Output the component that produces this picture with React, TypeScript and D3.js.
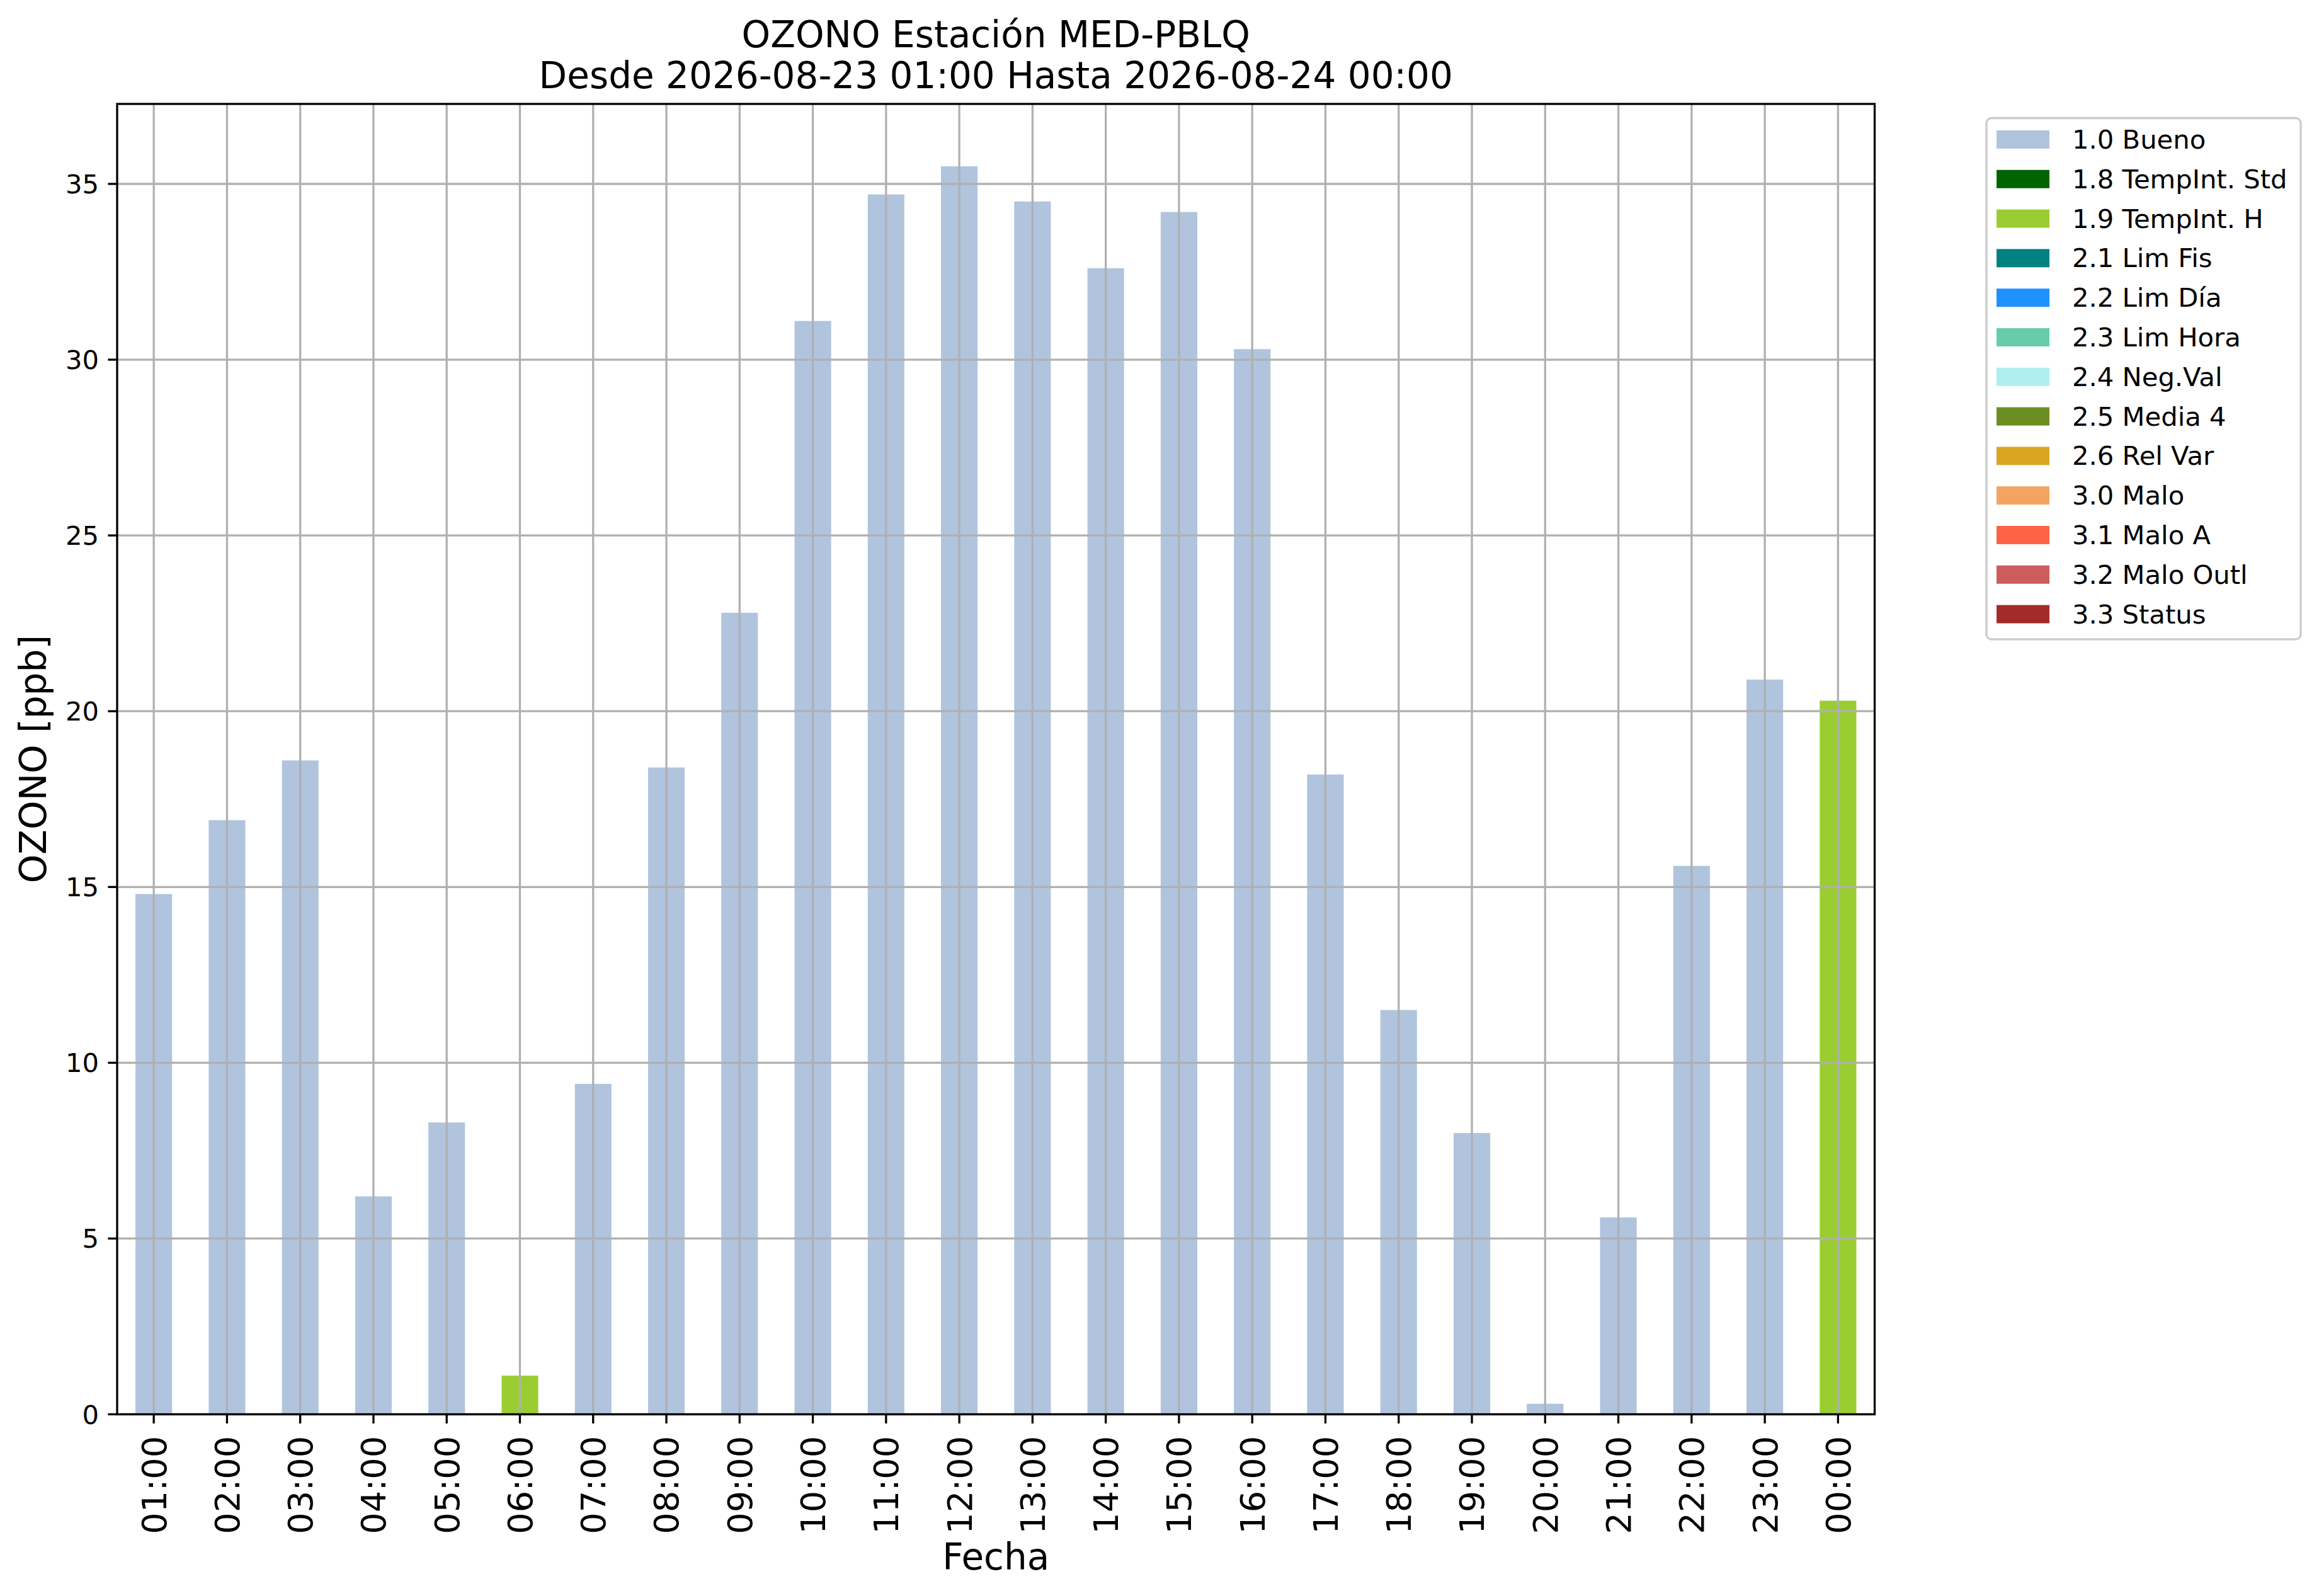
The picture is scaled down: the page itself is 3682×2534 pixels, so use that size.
import React from "react";
import * as d3 from "d3";

const hours = ["01:00","02:00","03:00","04:00","05:00","06:00","07:00","08:00","09:00","10:00","11:00","12:00","13:00","14:00","15:00","16:00","17:00","18:00","19:00","20:00","21:00","22:00","23:00","00:00"];
const ozoneValues = [14.8,16.9,18.6,6.2,8.3,1.1,9.4,18.4,22.8,31.1,34.7,35.5,34.5,32.6,34.2,30.3,18.2,11.5,8.0,0.3,5.6,15.6,20.9,20.3];
const qualityFlags = ["1.0","1.0","1.0","1.0","1.0","1.9","1.0","1.0","1.0","1.0","1.0","1.0","1.0","1.0","1.0","1.0","1.0","1.0","1.0","1.0","1.0","1.0","1.0","1.9"];
const flagCodes = ["1.0","1.8","1.9","2.1","2.2","2.3","2.4","2.5","2.6","3.0","3.1","3.2","3.3"];
const flagLabels = ["1.0 Bueno","1.8 TempInt. Std","1.9 TempInt. H","2.1 Lim Fis","2.2 Lim Día","2.3 Lim Hora","2.4 Neg.Val","2.5 Media 4","2.6 Rel Var","3.0 Malo","3.1 Malo A","3.2 Malo Outl","3.3 Status"];
const flagColors = ["#B0C4DE","#006400","#9ACD32","#008080","#1E90FF","#66CDAA","#AFEEEE","#6B8E23","#DAA520","#F4A460","#FF6347","#CD5C5C","#A52A2A"];
const yTicks = [0,5,10,15,20,25,30,35];
const titleLines = ["OZONO Estación MED-PBLQ","Desde 2026-08-23 01:00 Hasta 2026-08-24 00:00"];
const xLabel = "Fecha";
const yLabel = "OZONO [ppb]";

const W = 3682, H = 2534;
const L = 186, R = 2976.5, T = 165, B = 2245.5;
const FONT = "'DejaVu Sans', sans-serif";
const LW = 3.3;

export default function App() {
  React.useEffect(() => {
    document.body.style.margin = "0";
    document.body.style.overflow = "hidden";
  }, []);

  const x = d3.scaleBand<string>().domain(hours).range([L, R]).paddingInner(0.5).paddingOuter(0.25);
  const y = d3.scaleLinear().domain([0, d3.max(ozoneValues)! * 1.05]).range([B, T]);
  const color = d3.scaleOrdinal<string, string>().domain(flagCodes).range(flagColors);
  const cx = (h: string) => (x(h) as number) + x.bandwidth() / 2;

  const legX = 3154, legY = 187.5, legW = 499, legH = 827.5;
  const rowStep = 62.8;

  return (
    <svg width={W} height={H} style={{ position: "absolute", left: 0, top: 0, display: "block", background: "#fff" }} fontFamily={FONT}>
      <rect x={0} y={0} width={W} height={H} fill="#fff" />
      {/* bars */}
      {hours.map((h, i) => (
        <rect key={h} x={x(h)} y={y(ozoneValues[i])} width={x.bandwidth()} height={B - y(ozoneValues[i])} fill={color(qualityFlags[i])} />
      ))}
      {/* grid */}
      {hours.map((h) => (
        <line key={"gx" + h} x1={cx(h)} x2={cx(h)} y1={T} y2={B} stroke="#b0b0b0" strokeWidth={LW} />
      ))}
      {yTicks.map((t) => (
        <line key={"gy" + t} x1={L} x2={R} y1={y(t)} y2={y(t)} stroke="#b0b0b0" strokeWidth={LW} />
      ))}
      {/* spines */}
      <rect x={L} y={T} width={R - L} height={B - T} fill="none" stroke="#000" strokeWidth={LW} />
      {/* y ticks */}
      {yTicks.map((t) => (
        <g key={"yt" + t}>
          <line x1={L - 14.6} x2={L} y1={y(t)} y2={y(t)} stroke="#000" strokeWidth={LW} />
          <text x={157} y={y(t)} dy="0.36em" textAnchor="end" fontSize={41.7} fill="#000">{t}</text>
        </g>
      ))}
      {/* x ticks */}
      {hours.map((h) => (
        <g key={"xt" + h}>
          <line x1={cx(h)} x2={cx(h)} y1={B} y2={B + 14.6} stroke="#000" strokeWidth={LW} />
          <text transform={`translate(${cx(h)},${2280}) rotate(-90)`} dy="0.36em" textAnchor="end" fontSize={54} fill="#000">{h}</text>
        </g>
      ))}
      {/* axis labels */}
      <text x={(L + R) / 2} y={2492} textAnchor="middle" fontSize={58} fill="#000">{xLabel}</text>
      <text transform={`translate(73,${(T + B) / 2}) rotate(-90)`} textAnchor="middle" fontSize={58} fill="#000">{yLabel}</text>
      {/* title */}
      <text x={(L + R) / 2} y={75} textAnchor="middle" fontSize={58} fill="#000">{titleLines[0]}</text>
      <text x={(L + R) / 2} y={140} textAnchor="middle" fontSize={58} fill="#000">{titleLines[1]}</text>
      {/* legend */}
      <rect x={legX} y={legY} width={legW} height={legH} rx={8} ry={8} fill="#fff" fillOpacity={0.8} stroke="#cccccc" strokeWidth={LW} />
      {flagCodes.map((c, i) => (
        <g key={"lg" + c}>
          <rect x={3170} y={207 + i * rowStep} width={84} height={29} fill={color(c)} />
          <text x={3290} y={236 + i * rowStep} fontSize={41.7} fill="#000">{flagLabels[i]}</text>
        </g>
      ))}
    </svg>
  );
}
